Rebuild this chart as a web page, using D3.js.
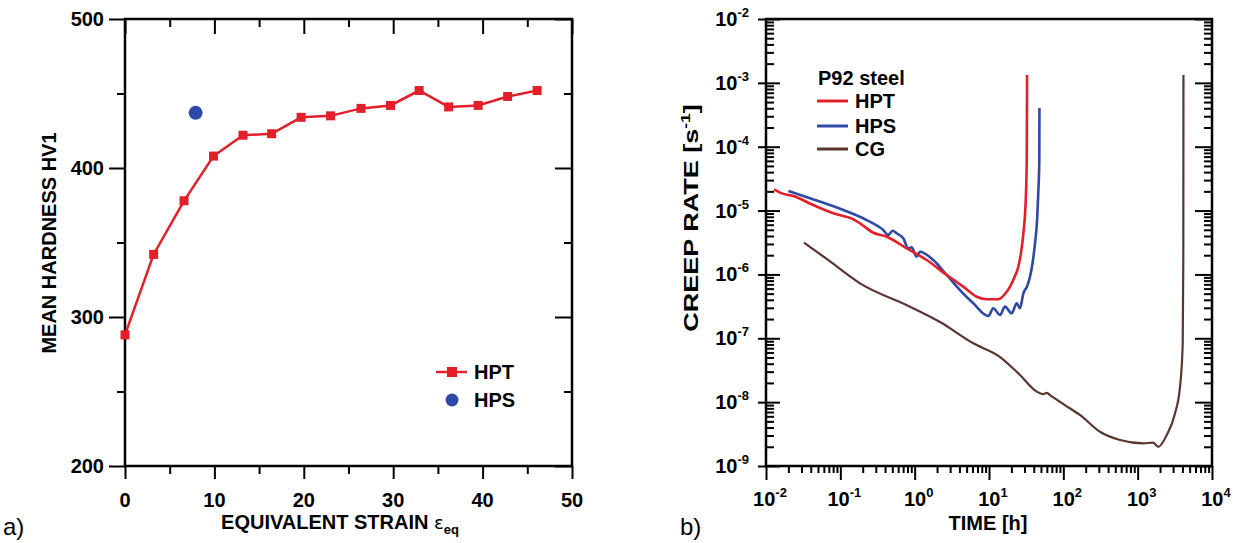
<!DOCTYPE html>
<html><head><meta charset="utf-8">
<script src="https://cdn.jsdelivr.net/npm/d3@7/dist/d3.min.js"></script>
<style>
html,body{margin:0;padding:0;background:#fff;}
svg{display:block;}
text{font-family:"Liberation Sans",Arial,sans-serif;}
</style></head>
<body>
<svg id="chart" width="1233" height="543"></svg>
<script>
// ---------- Data: panel a) ----------
const hptStrain   = [0, 3.2, 6.6, 9.9, 13.2, 16.4, 19.7, 23.0, 26.4, 29.7, 32.9, 36.2, 39.5, 42.8, 46.1];
const hptHardness = [288, 342, 378, 408, 422, 423, 434, 435, 440, 442, 452, 441, 442, 448, 452];
const hpsStrain   = [7.9];
const hpsHardness = [437];
const strainTicks   = [0, 10, 20, 30, 40, 50];
const hardnessTicks = [200, 300, 400, 500];

// ---------- Data: panel b) ----------
const hptTime = [0.0128, 0.0163, 0.0233, 0.0432, 0.0804, 0.150, 0.184, 0.278, 0.421, 0.782, 1.45, 2.70, 4.51, 6.84, 9.31, 13.3, 17.0, 19.2, 22.0, 24.8, 27.0, 29.0, 31.2, 32.2, 32.4, 32.5];
const hptRate = [2.15e-5, 1.86e-5, 1.69e-5, 1.22e-5, 9.06e-6, 7.3e-6, 6.32e-6, 4.5e-6, 3.9e-6, 2.56e-6, 1.68e-6, 9.8e-7, 6.43e-7, 4.48e-7, 4.08e-7, 4.08e-7, 5.2e-7, 6.43e-7, 9.0e-7, 1.32e-6, 2.2e-6, 4.4e-6, 1.47e-5, 6.2e-5, 3.76e-4, 1.33e-3];
const hpsTime = [0.020, 0.0391, 0.110, 0.226, 0.378, 0.441, 0.507, 0.578, 0.703, 0.820, 0.911, 1.06, 1.18, 1.78, 2.70, 4.07, 6.15, 9.79, 11.4, 14.1, 16.4, 20.2, 23.6, 26.1, 29.0, 32.5, 35.6, 38.5, 41.6, 44.5, 46.0, 47.5, 47.7];
const hpsRate = [2.02e-5, 1.56e-5, 1.02e-5, 7.1e-6, 4.96e-6, 4.14e-6, 4.84e-6, 4.38e-6, 3.68e-6, 2.56e-6, 2.66e-6, 1.90e-6, 2.27e-6, 1.68e-6, 9.8e-7, 5.7e-7, 3.53e-7, 2.23e-7, 2.95e-7, 2.32e-7, 3.13e-7, 2.46e-7, 3.53e-7, 2.95e-7, 5.06e-7, 6.5e-7, 9.2e-7, 1.5e-6, 3.07e-6, 7.5e-6, 1.86e-5, 6.2e-5, 4.04e-4];
const cgTime = [0.0324, 0.0656, 0.184, 0.865, 2.19, 6.15, 14.1, 26.1, 43.9, 53.3, 60.0, 66.2, 105, 167, 311, 579, 1190, 1610, 1897, 2460, 3184, 3715, 4037, 4110, 4130];
const cgRate = [3.14e-6, 1.75e-6, 7.26e-7, 3.13e-7, 1.80e-7, 8.34e-8, 5.09e-8, 2.66e-8, 1.46e-8, 1.34e-8, 1.40e-8, 1.29e-8, 9.0e-9, 6.3e-9, 3.44e-9, 2.55e-9, 2.26e-9, 2.32e-9, 2.0e-9, 3.06e-9, 6.7e-9, 1.75e-8, 8.3e-8, 1.68e-6, 1.33e-3];
const timeExps = [-2, -1, 0, 1, 2, 3, 4];
const rateExps = [-2, -3, -4, -5, -6, -7, -8, -9];
const legendNames = ["HPT", "HPS", "CG"];

const RED = "#e3202a", BLUE = "#2c4aa6", BROWN = "#5b3530";
const svg = d3.select("#chart");
svg.append("rect").attr("width",1233).attr("height",543).attr("fill","#fff");

function styleAxis(g){ g.select(".domain").remove(); g.selectAll("line").attr("stroke","#000").attr("stroke-width",2); g.selectAll("text").remove(); }

// ================= Panel a =================
const xa = d3.scaleLinear().domain([0,50]).range([125,572]);
const ya = d3.scaleLinear().domain([200,500]).range([466,19]);
const xMinor = d3.range(5,50,10), yMinor = d3.range(250,500,100);

const pa = svg.append("g");
pa.append("g").attr("transform","translate(0,466)").call(d3.axisBottom(xa).tickValues(strainTicks).tickSize(13)).call(styleAxis);
pa.append("g").attr("transform","translate(0,466)").call(d3.axisBottom(xa).tickValues(xMinor).tickSize(8)).call(styleAxis);
pa.append("g").attr("transform","translate(0,19)").call(d3.axisBottom(xa).tickValues(strainTicks).tickSize(15)).call(styleAxis);
pa.append("g").attr("transform","translate(0,19)").call(d3.axisBottom(xa).tickValues(xMinor).tickSize(8)).call(styleAxis);
pa.append("g").attr("transform","translate(125,0)").call(d3.axisLeft(ya).tickValues(hardnessTicks).tickSize(16)).call(styleAxis);
pa.append("g").attr("transform","translate(125,0)").call(d3.axisLeft(ya).tickValues(yMinor).tickSize(8)).call(styleAxis);
pa.append("g").attr("transform","translate(572,0)").call(d3.axisLeft(ya).tickValues(hardnessTicks).tickSize(17)).call(styleAxis);
pa.append("g").attr("transform","translate(572,0)").call(d3.axisLeft(ya).tickValues(yMinor).tickSize(8)).call(styleAxis);
pa.append("rect").attr("x",xa(0)).attr("y",ya(500)).attr("width",xa(50)-xa(0)).attr("height",ya(200)-ya(500))
  .attr("fill","none").attr("stroke","#000").attr("stroke-width",2.5);
pa.selectAll("text.xl").data(strainTicks).join("text").attr("class","xl")
  .attr("x",d=>xa(d)).attr("y",507).attr("text-anchor","middle")
  .attr("font-size",20).attr("font-weight","bold").text(d=>d);
pa.selectAll("text.yl").data(hardnessTicks).join("text").attr("class","yl")
  .attr("x",104).attr("y",d=>ya(d)).attr("dy","0.36em").attr("text-anchor","end")
  .attr("font-size",20).attr("font-weight","bold").text(d=>d);
const xt = pa.append("text").attr("x",340).attr("y",529).attr("text-anchor","middle").attr("font-size",20).attr("font-weight","bold");
xt.append("tspan").text("EQUIVALENT STRAIN ");
xt.append("tspan").attr("font-weight","normal").attr("font-size",18).attr("font-family","DejaVu Sans").text("ε");
xt.append("tspan").attr("font-size",13).attr("dy",5).text("eq");
pa.append("text").attr("transform","translate(56,243) rotate(-90)").attr("text-anchor","middle")
  .attr("font-size",20).attr("font-weight","bold").text("MEAN HARDNESS HV1");
const hpt = hptStrain.map((s,i)=>({x:s,y:hptHardness[i]}));
pa.append("path").datum(hpt).attr("fill","none").attr("stroke",RED).attr("stroke-width",2.5)
  .attr("d",d3.line().x(d=>xa(d.x)).y(d=>ya(d.y)));
pa.selectAll("rect.pt").data(hpt).join("rect").attr("class","pt")
  .attr("x",d=>xa(d.x)-4.5).attr("y",d=>ya(d.y)-4.5).attr("width",9).attr("height",9).attr("fill",RED);
pa.selectAll("circle.hps").data(hpsStrain.map((s,i)=>({x:s,y:hpsHardness[i]}))).join("circle").attr("class","hps")
  .attr("cx",d=>xa(d.x)).attr("cy",d=>ya(d.y)).attr("r",7).attr("fill",BLUE);
pa.append("line").attr("x1",436).attr("x2",467).attr("y1",372).attr("y2",372).attr("stroke",RED).attr("stroke-width",2.5);
pa.append("rect").attr("x",447).attr("y",367).attr("width",10).attr("height",10).attr("fill",RED);
pa.append("text").attr("x",474).attr("y",372).attr("dy","0.36em").attr("font-size",20).attr("font-weight","bold").text("HPT");
pa.append("circle").attr("cx",452).attr("cy",400).attr("r",6.5).attr("fill",BLUE);
pa.append("text").attr("x",474).attr("y",400).attr("dy","0.36em").attr("font-size",20).attr("font-weight","bold").text("HPS");
svg.append("text").attr("x",3).attr("y",535).attr("font-size",24).text("a)");

// ================= Panel b =================
const xb = d3.scaleLog().domain([1e-2,1e4]).range([766,1212]);
const yb = d3.scaleLog().domain([1e-9,1e-2]).range([466,19]);
const timeMajor = timeExps.map(e=>Math.pow(10,e));
const rateMajor = rateExps.map(e=>Math.pow(10,e));
const timeMinor = []; for (let e=-2;e<4;e++) for (let k=2;k<10;k++) timeMinor.push(k*Math.pow(10,e));
const rateMinor = []; for (let e=-9;e<-2;e++) for (let k=2;k<10;k++) rateMinor.push(k*Math.pow(10,e));

const pb = svg.append("g");
pb.append("g").attr("transform","translate(0,466)").call(d3.axisBottom(xb).tickValues(timeMajor).tickSize(14)).call(styleAxis);
pb.append("g").attr("transform","translate(0,466)").call(d3.axisBottom(xb).tickValues(timeMinor).tickSize(7)).call(styleAxis);
pb.append("g").attr("transform","translate(766,0)").call(d3.axisLeft(yb).tickValues(rateMajor).tickSize(8)).call(styleAxis);
pb.append("g").attr("transform","translate(766,0)").call(d3.axisLeft(yb).tickValues(rateMajor).tickSize(-14)).call(styleAxis);
pb.append("g").attr("transform","translate(766,0)").call(d3.axisLeft(yb).tickValues(rateMinor).tickSize(-8)).call(styleAxis);
pb.append("g").attr("transform","translate(1212,0)").call(d3.axisLeft(yb).tickValues(rateMajor).tickSize(17)).call(styleAxis);
pb.append("g").attr("transform","translate(1212,0)").call(d3.axisLeft(yb).tickValues(rateMinor).tickSize(8)).call(styleAxis);
pb.append("rect").attr("x",766).attr("y",19).attr("width",1212-766).attr("height",466-19)
  .attr("fill","none").attr("stroke","#000").attr("stroke-width",2.5);
const xlb = pb.selectAll("text.xl").data(timeExps).join("text").attr("class","xl")
  .attr("x",d=>xb(Math.pow(10,d))+4).attr("y",506).attr("text-anchor","middle")
  .attr("font-size",20).attr("font-weight","bold");
xlb.append("tspan").text("10");
xlb.append("tspan").attr("font-size",13).attr("dy",-9).text(d=>d<0?"-"+(-d):""+d);
const ylb = pb.selectAll("text.yl").data(rateExps).join("text").attr("class","yl")
  .attr("x",749).attr("y",d=>yb(Math.pow(10,d))+7).attr("text-anchor","end")
  .attr("font-size",20).attr("font-weight","bold");
ylb.append("tspan").text("10");
ylb.append("tspan").attr("font-size",13).attr("dy",-9).text(d=>"-"+(-d));
pb.append("text").attr("x",988).attr("y",530).attr("text-anchor","middle").attr("font-size",20).attr("font-weight","bold").text("TIME [h]");
const yt = pb.append("text").attr("transform","translate(698,218) rotate(-90) scale(1.35,1)").attr("text-anchor","middle")
  .attr("font-size",20).attr("font-weight","bold");
yt.append("tspan").text("CREEP RATE [s");
yt.append("tspan").attr("font-size",13).attr("dy",-8).text("-1");
yt.append("tspan").attr("dy",8).text("]");
const lineB = d3.line().curve(d3.curveMonotoneX).x(d=>xb(d[0])).y(d=>yb(d[1]));
const series = [
  {name:"CG", t:cgTime, r:cgRate, c:BROWN, w:2.2},
  {name:"HPS", t:hpsTime, r:hpsRate, c:BLUE, w:2.6},
  {name:"HPT", t:hptTime, r:hptRate, c:RED, w:2.6}
];
series.forEach(s=>{
  pb.append("path").datum(s.t.map((t,i)=>[t,s.r[i]])).attr("fill","none")
    .attr("stroke",s.c).attr("stroke-width",s.w).attr("stroke-linejoin","round").attr("d",lineB);
});
pb.append("text").attr("x",818).attr("y",85).attr("font-size",20).attr("font-weight","bold").text("P92 steel");
const legColors = [RED, BLUE, BROWN];
const legY = [101, 126, 149];
legendNames.forEach((n,i)=>{
  pb.append("line").attr("x1",817).attr("x2",848).attr("y1",legY[i]).attr("y2",legY[i]).attr("stroke",legColors[i]).attr("stroke-width",3);
  pb.append("text").attr("x",855).attr("y",legY[i]).attr("dy","0.36em").attr("font-size",20).attr("font-weight","bold").text(n);
});
svg.append("text").attr("x",680).attr("y",535).attr("font-size",24).text("b)");
</script>
</body></html>
